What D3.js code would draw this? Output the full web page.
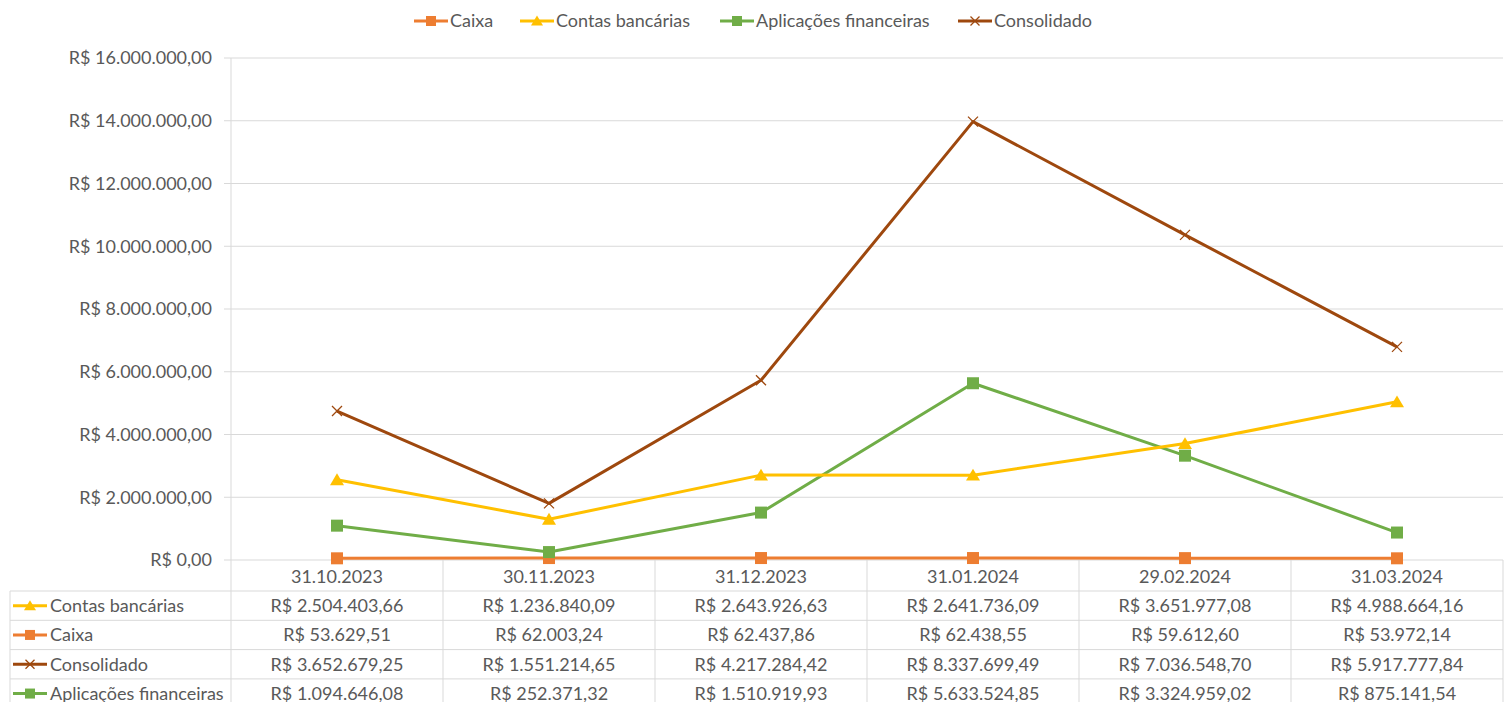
<!DOCTYPE html>
<html>
<head>
<meta charset="utf-8">
<script src="https://cdn.jsdelivr.net/npm/d3@7"></script>
<style>
  body { margin: 0; background: #fff; }
  svg text { font-family: Lato, "Open Sans", sans-serif; fill: #595959; }
</style>
</head>
<body>
<svg id="chart" width="1509" height="702"></svg>
<script>
const dates = ["31.10.2023", "30.11.2023", "31.12.2023", "31.01.2024", "29.02.2024", "31.03.2024"];

// values shown in the data table
const contasTable = [2504403.66, 1236840.09, 2643926.63, 2641736.09, 3651977.08, 4988664.16];
const caixaTable = [53629.51, 62003.24, 62437.86, 62438.55, 59612.60, 53972.14];
const consolidadoTable = [3652679.25, 1551214.65, 4217284.42, 8337699.49, 7036548.70, 5917777.84];
const aplicacoesTable = [1094646.08, 252371.32, 1510919.93, 5633524.85, 3324959.02, 875141.54];

// values as plotted (Excel stacked some series)
const caixaPlot = [53630, 62003, 62438, 62439, 59613, 53972];
const contasPlot = [2558000, 1299000, 2706000, 2704000, 3712000, 5043000];
const aplicacoesPlot = [1094646, 252371, 1510920, 5633525, 3324959, 875142];
const consolidadoPlot = [4747000, 1804000, 5728000, 13971000, 10362000, 6793000];

const yTicks = [0, 2000000, 4000000, 6000000, 8000000, 10000000, 12000000, 14000000, 16000000];

const COLORS = {
  caixa: "#ED7D31",
  contas: "#FFC000",
  aplicacoes: "#70AD47",
  consolidado: "#9E480E",
};
const GRID = "#d9d9d9";
const FONT = "18px";

const svg = d3.select("#chart");
const plotLeft = 231, plotRight = 1503, plotTop = 58, plotBottom = 560, tableLeft = 10;

const x = d3.scaleBand().domain(dates).range([plotLeft, plotRight]);
const y = d3.scaleLinear().domain([0, 16000000]).range([plotBottom, plotTop]);

const brl = v => {
  const parts = v.toFixed(2).split(".");
  return "R$ " + parts[0].replace(/\B(?=(\d{3})+(?!\d))/g, ".") + "," + parts[1];
};

// gridlines
svg.append("g")
  .selectAll("line")
  .data(yTicks)
  .join("line")
  .attr("x1", plotLeft - 7).attr("x2", plotRight)
  .attr("y1", d => y(d)).attr("y2", d => y(d))
  .attr("stroke", GRID).attr("stroke-width", 1);

// y axis line
svg.append("line")
  .attr("x1", plotLeft).attr("x2", plotLeft)
  .attr("y1", plotTop).attr("y2", plotBottom)
  .attr("stroke", GRID);

svg.append("g")
  .selectAll("text")
  .data(yTicks)
  .join("text")
  .attr("x", plotLeft - 19)
  .attr("y", d => y(d))
  .attr("dy", "0.35em")
  .attr("text-anchor", "end")
  .style("font-size", FONT)
  .text(d => brl(d));

// data table
const rows = [
  { name: "Contas bancárias", key: "contas", values: contasTable },
  { name: "Caixa", key: "caixa", values: caixaTable },
  { name: "Consolidado", key: "consolidado", values: consolidadoTable },
  { name: "Aplicações financeiras", key: "aplicacoes", values: aplicacoesTable },
];
const headerH = 31, rowH = 29.3;
const rowY = i => plotBottom + headerH + i * rowH;
const table = svg.append("g");

// horizontal table lines
table.selectAll("line.h")
  .data(d3.range(rows.length + 1))
  .join("line")
  .attr("class", "h")
  .attr("x1", tableLeft).attr("x2", plotRight)
  .attr("y1", i => rowY(i)).attr("y2", i => rowY(i))
  .attr("stroke", GRID);

// vertical column lines
table.selectAll("line.v")
  .data(dates.map(d => x(d)).concat([plotRight]))
  .join("line")
  .attr("class", "v")
  .attr("x1", d => d).attr("x2", d => d)
  .attr("y1", plotBottom).attr("y2", 702)
  .attr("stroke", GRID);
table.append("line")
  .attr("x1", tableLeft).attr("x2", tableLeft)
  .attr("y1", rowY(0)).attr("y2", 702)
  .attr("stroke", GRID);

// header
table.selectAll("text.hd")
  .data(dates)
  .join("text")
  .attr("class", "hd")
  .attr("x", d => x(d) + x.bandwidth() / 2)
  .attr("y", plotBottom + headerH / 2 + 1)
  .attr("dy", "0.35em")
  .attr("text-anchor", "middle")
  .style("font-size", FONT)
  .text(d => d);

function drawMarker(g, key, cx, cy, s) {
  const c = COLORS[key];
  if (key === "caixa" || key === "aplicacoes") {
    g.append("rect").attr("x", cx - s / 2).attr("y", cy - s / 2)
      .attr("width", s).attr("height", s).attr("fill", c);
  } else if (key === "contas") {
    const h = s * 0.9;
    g.append("path")
      .attr("d", `M${cx},${cy - h / 2 - 1} L${cx + s / 2 + 1},${cy + h / 2} L${cx - s / 2 - 1},${cy + h / 2} Z`)
      .attr("fill", c);
  } else {
    const r = s / 2 - 0.5;
    g.append("path")
      .attr("d", `M${cx - r},${cy - r} L${cx + r},${cy + r} M${cx - r},${cy + r} L${cx + r},${cy - r}`)
      .attr("stroke", c).attr("stroke-width", 1.3).attr("fill", "none");
  }
}

function legendKey(g, key, x0, cy) {
  g.append("line")
    .attr("x1", x0).attr("x2", x0 + 34)
    .attr("y1", cy).attr("y2", cy)
    .attr("stroke", COLORS[key]).attr("stroke-width", 3);
  drawMarker(g, key, x0 + 17, cy, 10);
}

rows.forEach((r, i) => {
  const cy = rowY(i) + rowH / 2;
  legendKey(table, r.key, 13, cy);
  table.append("text")
    .attr("x", 50).attr("y", cy).attr("dy", "0.35em")
    .style("font-size", FONT)
    .text(r.name);
  table.selectAll(null)
    .data(r.values)
    .join("text")
    .attr("x", (d, j) => x(dates[j]) + x.bandwidth() / 2)
    .attr("y", cy).attr("dy", "0.35em")
    .attr("text-anchor", "middle")
    .style("font-size", FONT)
    .text(d => brl(d));
});

// lines
const series = [
  { key: "caixa", values: caixaPlot },
  { key: "aplicacoes", values: aplicacoesPlot },
  { key: "contas", values: contasPlot },
  { key: "consolidado", values: consolidadoPlot },
];
const line = d3.line()
  .x((d, i) => x(dates[i]) + x.bandwidth() / 2)
  .y(d => y(d));

const plot = svg.append("g");
series.forEach(s => {
  plot.append("path")
    .datum(s.values)
    .attr("d", line)
    .attr("fill", "none")
    .attr("stroke", COLORS[s.key])
    .attr("stroke-width", 3)
    .attr("stroke-linejoin", "round");
  s.values.forEach((v, i) => {
    drawMarker(plot, s.key, x(dates[i]) + x.bandwidth() / 2, y(v), s.key === "consolidado" ? 11 : 12);
  });
});

// legend
const legend = [
  { name: "Caixa", key: "caixa", x: 414 },
  { name: "Contas bancárias", key: "contas", x: 520 },
  { name: "Aplicações financeiras", key: "aplicacoes", x: 720 },
  { name: "Consolidado", key: "consolidado", x: 958 },
];
const lg = svg.append("g");
legend.forEach(l => {
  legendKey(lg, l.key, l.x, 21);
  lg.append("text")
    .attr("x", l.x + 36).attr("y", 21).attr("dy", "0.35em")
    .style("font-size", FONT)
    .text(l.name);
});
</script>
</body>
</html>
